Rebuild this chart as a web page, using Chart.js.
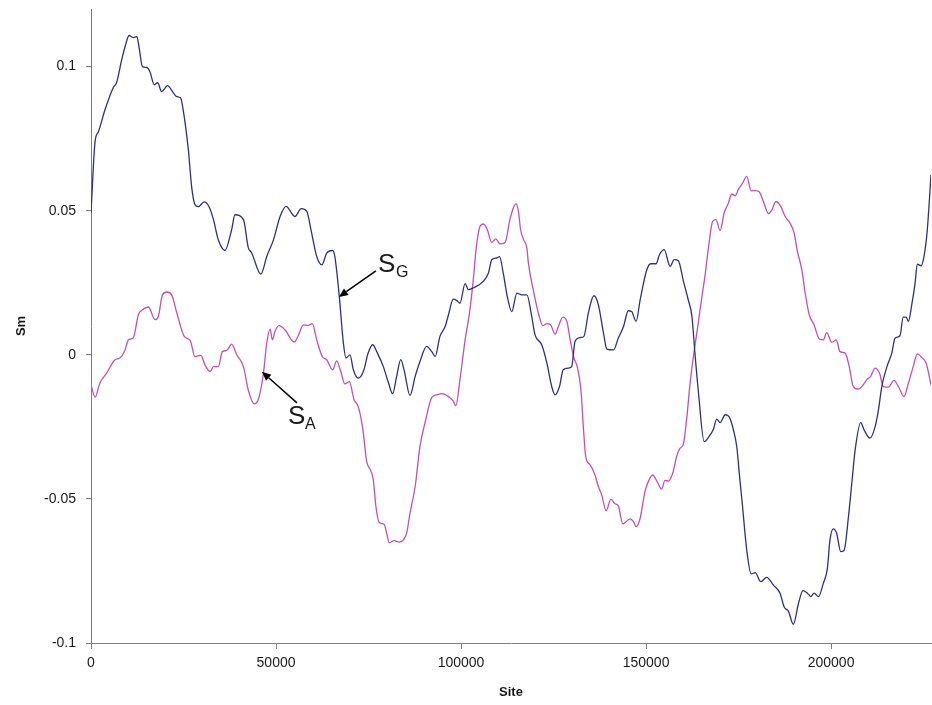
<!DOCTYPE html>
<html>
<head>
<meta charset="utf-8">
<script src="https://cdn.jsdelivr.net/npm/chart.js@4.4.1/dist/chart.umd.min.js"></script>
<style>
  html, body { margin: 0; padding: 0; background: #ffffff; }
  #wrap { width: 932px; height: 705px; }
</style>
</head>
<body>
<div id="wrap"><canvas id="chart" width="932" height="705"></canvas></div>
<script>
// S_G profile along the sequence
const sgSites = [0, 1100, 2000, 3800, 6000, 6900, 8300, 9200, 10300, 11400, 12400, 13000, 13900, 15100, 15900, 17100, 18000, 19100, 20700, 22200, 23200, 24200, 24900, 26300, 27200, 28100, 29000, 30600, 31900, 33100, 34400, 36200, 38000, 38900, 41200, 42500, 43400, 45900, 47500, 49300, 51100, 52700, 55100, 56800, 58300, 59600, 61000, 62400, 63700, 65300, 65900, 67100, 68200, 68900, 70000, 70900, 72200, 73600, 74900, 76100, 77400, 79000, 80400, 81500, 82600, 83700, 84600, 86200, 87600, 88900, 90700, 92100, 93000, 94300, 95700, 96600, 97900, 98800, 99700, 101100, 102000, 103300, 106000, 107400, 108300, 109600, 110400, 111400, 112500, 113700, 115100, 116400, 117800, 119100, 120000, 121800, 123200, 124500, 125400, 126600, 127600, 129000, 129900, 130800, 132200, 133200, 134400, 135900, 137100, 138500, 139400, 141200, 142500, 143900, 145200, 146100, 147300, 148400, 150200, 151300, 152700, 153600, 154900, 156500, 157600, 158700, 160100, 161400, 162400, 163200, 164100, 165700, 167300, 168200, 169100, 170000, 171400, 172500, 173600, 174500, 175400, 175900, 177200, 178400, 179500, 181000, 182600, 184400, 186200, 187300, 188500, 189800, 191200, 192400, 193600, 194500, 195400, 196600, 197900, 199000, 199700, 200600, 201500, 202600, 203500, 204700, 205600, 206500, 208000, 208900, 210500, 211900, 212800, 213700, 215100, 216400, 217300, 218600, 219500, 220300, 220900, 221800, 222700, 223300, 224300, 225100, 226000, 227000];
const sgValues = [0.0493, 0.0740, 0.0774, 0.0851, 0.0927, 0.0944, 0.1024, 0.1069, 0.1108, 0.1101, 0.1104, 0.1066, 0.1000, 0.0997, 0.0983, 0.0937, 0.0944, 0.0913, 0.0934, 0.0910, 0.0896, 0.0892, 0.0851, 0.0712, 0.0583, 0.0521, 0.0514, 0.0531, 0.0514, 0.0469, 0.0399, 0.0362, 0.0434, 0.0486, 0.0469, 0.0372, 0.0354, 0.0280, 0.0341, 0.0399, 0.0480, 0.0515, 0.0480, 0.0507, 0.0498, 0.0424, 0.0341, 0.0312, 0.0353, 0.0362, 0.0341, 0.0202, 0.0041, -0.0011, 0.0000, -0.0052, -0.0081, -0.0058, 0.0006, 0.0035, 0.0006, -0.0041, -0.0098, -0.0135, -0.0075, -0.0017, -0.0052, -0.0141, -0.0075, -0.0023, 0.0029, 0.0011, -0.0006, 0.0064, 0.0098, 0.0139, 0.0193, 0.0189, 0.0179, 0.0247, 0.0226, 0.0232, 0.0255, 0.0284, 0.0330, 0.0336, 0.0341, 0.0284, 0.0202, 0.0150, 0.0214, 0.0208, 0.0208, 0.0133, 0.0069, 0.0035, -0.0029, -0.0110, -0.0139, -0.0110, -0.0052, -0.0046, -0.0041, 0.0046, 0.0060, 0.0064, 0.0145, 0.0205, 0.0174, 0.0075, 0.0020, 0.0017, 0.0058, 0.0098, 0.0153, 0.0150, 0.0116, 0.0191, 0.0295, 0.0316, 0.0316, 0.0347, 0.0365, 0.0307, 0.0330, 0.0327, 0.0255, 0.0191, 0.0133, 0.0006, -0.0122, -0.0301, -0.0278, -0.0258, -0.0223, -0.0235, -0.0208, -0.0216, -0.0260, -0.0318, -0.0440, -0.0503, -0.0677, -0.0760, -0.0756, -0.0787, -0.0772, -0.0799, -0.0827, -0.0874, -0.0891, -0.0935, -0.0862, -0.0818, -0.0827, -0.0839, -0.0827, -0.0839, -0.0793, -0.0741, -0.0642, -0.0604, -0.0619, -0.0683, -0.0679, -0.0561, -0.0445, -0.0330, -0.0235, -0.0260, -0.0289, -0.0249, -0.0191, -0.0110, -0.0041, 0.0006, 0.0058, 0.0066, 0.0131, 0.0131, 0.0116, 0.0174, 0.0249, 0.0315, 0.0309, 0.0341, 0.0434, 0.0625];

// S_A profile along the sequence
const saSites = [0, 1100, 2400, 4200, 6500, 7800, 9200, 10100, 11400, 12800, 13900, 15500, 17300, 18200, 19300, 20500, 21800, 23200, 25200, 26800, 28100, 29700, 30800, 32200, 33100, 34400, 35500, 36700, 38000, 39400, 41200, 42500, 44100, 45200, 46600, 47500, 48400, 49000, 49700, 50800, 52400, 54900, 56000, 57400, 58700, 59800, 61000, 62500, 63700, 65300, 66400, 67500, 68600, 69800, 71100, 72200, 73200, 73600, 74500, 75600, 76300, 77000, 77900, 79200, 79900, 80600, 81900, 83300, 84400, 85300, 86200, 87600, 88900, 90300, 92100, 93400, 94800, 96600, 97800, 98600, 99700, 101100, 102400, 103300, 104100, 105100, 106000, 107100, 108300, 109400, 110500, 111900, 113200, 114100, 114900, 115500, 116100, 117000, 117800, 118200, 119500, 120900, 122100, 123200, 124200, 125400, 126300, 127500, 128600, 129500, 130500, 131400, 132400, 133100, 133700, 134900, 136200, 137100, 138000, 139200, 140500, 141600, 142500, 143700, 145700, 146600, 147300, 148400, 149700, 150600, 151800, 153100, 154200, 155100, 156000, 157200, 158300, 159200, 160100, 161000, 161900, 162800, 164100, 165100, 165900, 166800, 168000, 168900, 170000, 171100, 172200, 173200, 174100, 174900, 176100, 177200, 178400, 179500, 180600, 181700, 183100, 184000, 185100, 186400, 187600, 188900, 190000, 190900, 192100, 193000, 194100, 195400, 196800, 197900, 198800, 200200, 201400, 202400, 203800, 204900, 206000, 207400, 208700, 209600, 210700, 211900, 213100, 214100, 215500, 217000, 218200, 219700, 220900, 222200, 223300, 224500, 225700, 227000];
const saValues = [-0.0104, -0.0147, -0.0098, -0.0064, -0.0017, -0.0011, 0.0017, 0.0052, 0.0058, 0.0139, 0.0156, 0.0166, 0.0122, 0.0133, 0.0208, 0.0218, 0.0208, 0.0145, 0.0064, 0.0050, -0.0006, -0.0002, -0.0035, -0.0058, -0.0041, -0.0041, 0.0011, 0.0015, 0.0037, 0.0000, -0.0041, -0.0122, -0.0170, -0.0156, -0.0064, 0.0041, 0.0089, 0.0052, 0.0081, 0.0101, 0.0087, 0.0044, 0.0066, 0.0104, 0.0102, 0.0108, 0.0052, -0.0006, -0.0017, -0.0052, -0.0021, -0.0058, -0.0101, -0.0093, -0.0156, -0.0179, -0.0237, -0.0272, -0.0370, -0.0402, -0.0434, -0.0527, -0.0582, -0.0588, -0.0619, -0.0652, -0.0645, -0.0650, -0.0642, -0.0619, -0.0550, -0.0457, -0.0318, -0.0234, -0.0148, -0.0139, -0.0135, -0.0145, -0.0159, -0.0176, -0.0087, 0.0052, 0.0156, 0.0260, 0.0370, 0.0445, 0.0454, 0.0434, 0.0390, 0.0402, 0.0385, 0.0390, 0.0469, 0.0509, 0.0524, 0.0498, 0.0434, 0.0397, 0.0370, 0.0318, 0.0226, 0.0145, 0.0101, 0.0108, 0.0104, 0.0072, 0.0098, 0.0131, 0.0116, 0.0052, -0.0011, -0.0041, -0.0122, -0.0260, -0.0353, -0.0382, -0.0417, -0.0457, -0.0486, -0.0541, -0.0501, -0.0517, -0.0524, -0.0587, -0.0569, -0.0579, -0.0596, -0.0567, -0.0475, -0.0440, -0.0417, -0.0443, -0.0466, -0.0436, -0.0438, -0.0411, -0.0351, -0.0324, -0.0309, -0.0219, -0.0098, -0.0006, 0.0110, 0.0202, 0.0272, 0.0365, 0.0463, 0.0469, 0.0431, 0.0492, 0.0525, 0.0558, 0.0552, 0.0573, 0.0596, 0.0619, 0.0569, 0.0570, 0.0565, 0.0532, 0.0490, 0.0503, 0.0532, 0.0515, 0.0480, 0.0457, 0.0423, 0.0359, 0.0295, 0.0214, 0.0139, 0.0104, 0.0055, 0.0052, 0.0077, 0.0043, 0.0052, 0.0011, 0.0006, -0.0041, -0.0110, -0.0119, -0.0104, -0.0087, -0.0075, -0.0046, -0.0064, -0.0110, -0.0112, -0.0089, -0.0110, -0.0145, -0.0098, -0.0041, 0.0003, -0.0009, -0.0029, -0.0104];

const xTickValues = [0, 50000, 100000, 150000, 200000];
const yTickValues = [-0.1, -0.05, 0, 0.05, 0.1];
const yTickLabels = ['-0.1', '-0.05', '0', '0.05', '0.1'];

const FONT = "'Liberation Sans', Arial, sans-serif";
const AXIS_GREY = '#7f7f7f';

// Labelled arrows pointing at each curve (tip given in data units, tail and text offsets in px)
const curveLabels = [
  { main: 'S', sub: 'G', tip: { x: 67000, y: 0.0201 }, tail: [37, -26], text: [39, -25], sub_dx: 18, sub_dy: 5 },
  { main: 'S', sub: 'A', tip: { x: 46200, y: -0.0059 }, tail: [35, 31], text: [26, 52], sub_dx: 17, sub_dy: 5 }
];

const arrowLabels = {
  id: 'arrowLabels',
  afterDatasetsDraw(chart) {
    const { ctx, scales } = chart;
    ctx.save();
    curveLabels.forEach(l => {
      const tx = scales.x.getPixelForValue(l.tip.x);
      const ty = scales.y.getPixelForValue(l.tip.y);
      const ex = tx + l.tail[0];
      const ey = ty + l.tail[1];
      const ang = Math.atan2(ty - ey, tx - ex);
      const head = 9, wing = 4;
      const bx = tx - head * Math.cos(ang);
      const by = ty - head * Math.sin(ang);
      ctx.strokeStyle = '#000';
      ctx.fillStyle = '#000';
      ctx.lineWidth = 1.5;
      ctx.beginPath();
      ctx.moveTo(ex, ey);
      ctx.lineTo(bx, by);
      ctx.stroke();
      ctx.beginPath();
      ctx.moveTo(tx, ty);
      ctx.lineTo(bx + wing * Math.sin(ang), by - wing * Math.cos(ang));
      ctx.lineTo(bx - wing * Math.sin(ang), by + wing * Math.cos(ang));
      ctx.closePath();
      ctx.fill();
      ctx.fillStyle = '#1a1a1a';
      ctx.textBaseline = 'alphabetic';
      ctx.textAlign = 'left';
      const sx = tx + l.text[0];
      const sy = ty + l.text[1];
      ctx.font = '26px ' + FONT;
      ctx.fillText(l.main, sx, sy);
      ctx.font = '16px ' + FONT;
      ctx.fillText(l.sub, sx + l.sub_dx, sy + l.sub_dy);
    });
    ctx.restore();
  }
};

const pts = (xs, ys) => xs.map((x, i) => ({ x, y: ys[i] }));

new Chart(document.getElementById('chart'), {
  type: 'line',
  data: {
    datasets: [
      { label: 'SG', data: pts(sgSites, sgValues), borderColor: '#2e2f86', borderWidth: 1.3, pointRadius: 0, cubicInterpolationMode: 'monotone', fill: false },
      { label: 'SA', data: pts(saSites, saValues), borderColor: '#c44fb0', borderWidth: 1.3, pointRadius: 0, cubicInterpolationMode: 'monotone', fill: false }
    ]
  },
  options: {
    responsive: false,
    animation: false,
    devicePixelRatio: 1,
    layout: { padding: { top: 9, right: 1, left: 0, bottom: 0 } },
    plugins: { legend: { display: false }, tooltip: { enabled: false } },
    scales: {
      x: {
        type: 'linear',
        min: 0,
        max: 227000,
        afterBuildTicks: s => { s.ticks = xTickValues.map(v => ({ value: v })); },
        afterFit: s => { s.height = 62; s.paddingLeft = 0; s.paddingRight = 0; },
        ticks: { callback: v => String(v), color: '#1a1a1a', font: { family: FONT, size: 14 }, padding: 6, maxRotation: 0 },
        grid: { display: true, drawOnChartArea: false, drawTicks: true, tickLength: 6, color: AXIS_GREY },
        border: { display: true, color: AXIS_GREY, width: 1 },
        title: { display: true, text: 'Site', color: '#1a1a1a', font: { family: FONT, size: 13, weight: 'bold' }, padding: { top: 0, bottom: 5 } }
      },
      y: {
        type: 'linear',
        min: -0.1,
        max: 0.12,
        afterBuildTicks: s => { s.ticks = yTickValues.map(v => ({ value: v })); },
        afterFit: s => { s.width = 91; s.paddingTop = 0; s.paddingBottom = 0; },
        ticks: { callback: v => yTickLabels[yTickValues.findIndex(t => Math.abs(t - v) < 1e-9)], color: '#1a1a1a', font: { family: FONT, size: 14 }, padding: 10 },
        grid: { display: true, drawOnChartArea: false, drawTicks: true, tickLength: 5, color: AXIS_GREY },
        border: { display: true, color: AXIS_GREY, width: 1 },
        title: { display: true, text: 'Sm', color: '#1a1a1a', font: { family: FONT, size: 13, weight: 'bold' }, padding: { top: 14, bottom: 0 } }
      }
    }
  },
  plugins: [arrowLabels]
});
</script>
</body>
</html>
